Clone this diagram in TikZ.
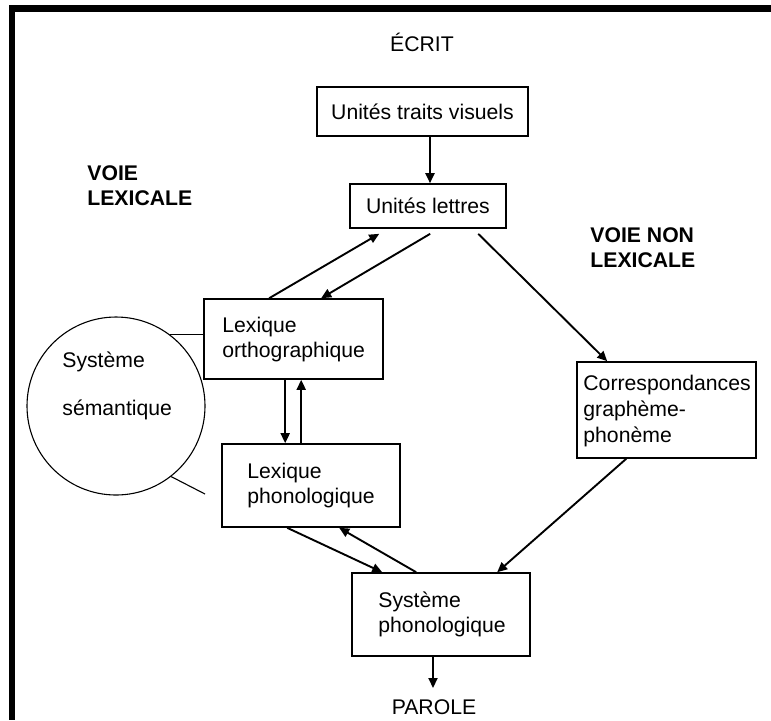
\documentclass[tikz,border=0pt]{standalone}
\usepackage{fontspec}
\setmainfont{Liberation Sans}
\usetikzlibrary{arrows.meta,calc}
\tikzset{
  box/.style={draw, line width=0.8pt, inner sep=0pt},
  txt/.style={inner sep=0pt, align=left, font=\fontsize{10.6}{12.8}\selectfont},
  hd/.style={inner sep=0pt, align=left, font=\fontsize{10.6}{12.8}\selectfont\bfseries},
  arr/.style={line width=0.95pt, -{Triangle[length=5pt,width=4.5pt]}},
  thin/.style={line width=0.55pt}
}
\begin{document}
\begin{tikzpicture}[x=0.5pt,y=-0.5pt]
\useasboundingbox (0,0) rectangle (771,720);
% frame bars
\fill (9,5) rectangle (15,720);
\fill (9,5) rectangle (771,12);
% titles
\node[txt] (ecrit) at (422,42) {ÉCRIT};
\node[txt] (parole) at (434,707) {PAROLE};
\node[hd, anchor=west] (vl) at (87,185.5) {VOIE\\LEXICALE};
\node[hd, anchor=west] (vnl) at (590,247.5) {VOIE NON\\LEXICALE};
% boxes
\node[box, minimum width=105.5pt, minimum height=24.5pt, font=\fontsize{10.6}{12.8}\selectfont] (ut) at (422.5,111.5) {Unités traits visuels};
\node[box, minimum width=78pt, minimum height=22pt, font=\fontsize{10.6}{12.8}\selectfont] (ul) at (428,206) {Unités lettres};
\node[box, minimum width=89.5pt, minimum height=40pt] (lo) at (293.5,339) {};
\node[box, minimum width=89pt, minimum height=41.5pt] (lp) at (311,485.5) {};
\node[box, minimum width=89pt, minimum height=41.5pt] (sp) at (441,614.5) {};
\node[box, minimum width=89.5pt, minimum height=48pt] (cgp) at (666.5,410) {};
\node[txt, anchor=west] (lot) at (222,339.5) {Lexique\\orthographique};
\node[txt, anchor=west] (lpt) at (247,485.5) {Lexique\\phonologique};
\node[txt, anchor=west] (spt) at (378,614.5) {Système\\phonologique};
\node[txt, anchor=west] (cgpt) at (583,411) {Correspondances\\graphème-\\phonème};
% semantic system
\node[draw, thin, circle, minimum size=89pt, inner sep=0pt] (sem) at (116,406) {};
\node[txt, anchor=west] (sem1) at (62,362) {Système};
\node[txt, anchor=west] (sem2) at (62,410) {sémantique};
\coordinate (semend) at (205,494);
\coordinate (paroletip) at (433,688);
% connectors
\draw[arr] ($(ut.south)+(7.5,0)$) -- ($(ul.north)+(2,0)$);
\draw[arr] ($(lo.north west)+(66,0)$) -- ($(ul.south west)+(30,5)$);
\draw[arr] ($(ul.south west)+(81,5)$) -- ($(lo.north west)+(118,0)$);
\draw[arr] ($(ul.south west)+(129,5)$) -- ($(cgp.north west)+(31,0)$);
\draw[arr] ($(lo.south west)+(82,0)$) -- ($(lp.north west)+(64,0)$);
\draw[arr] ($(lp.north west)+(80,0)$) -- ($(lo.south west)+(98,0)$);
\draw[arr] ($(lp.south west)+(66,0)$) -- ($(sp.north west)+(31,0)$);
\draw[arr] ($(sp.north west)+(65,0)$) -- ($(lp.south west)+(118,0)$);
\draw[arr] ($(cgp.south west)+(50,0)$) -- ($(sp.north west)+(146,0)$);
\draw[arr] (sp.south -| paroletip) -- (paroletip);
\draw[thin] (sem.53) -- (sem.53 -| lo.west);
\draw[thin] (sem.-52) -- (semend);
\end{tikzpicture}
\end{document}
